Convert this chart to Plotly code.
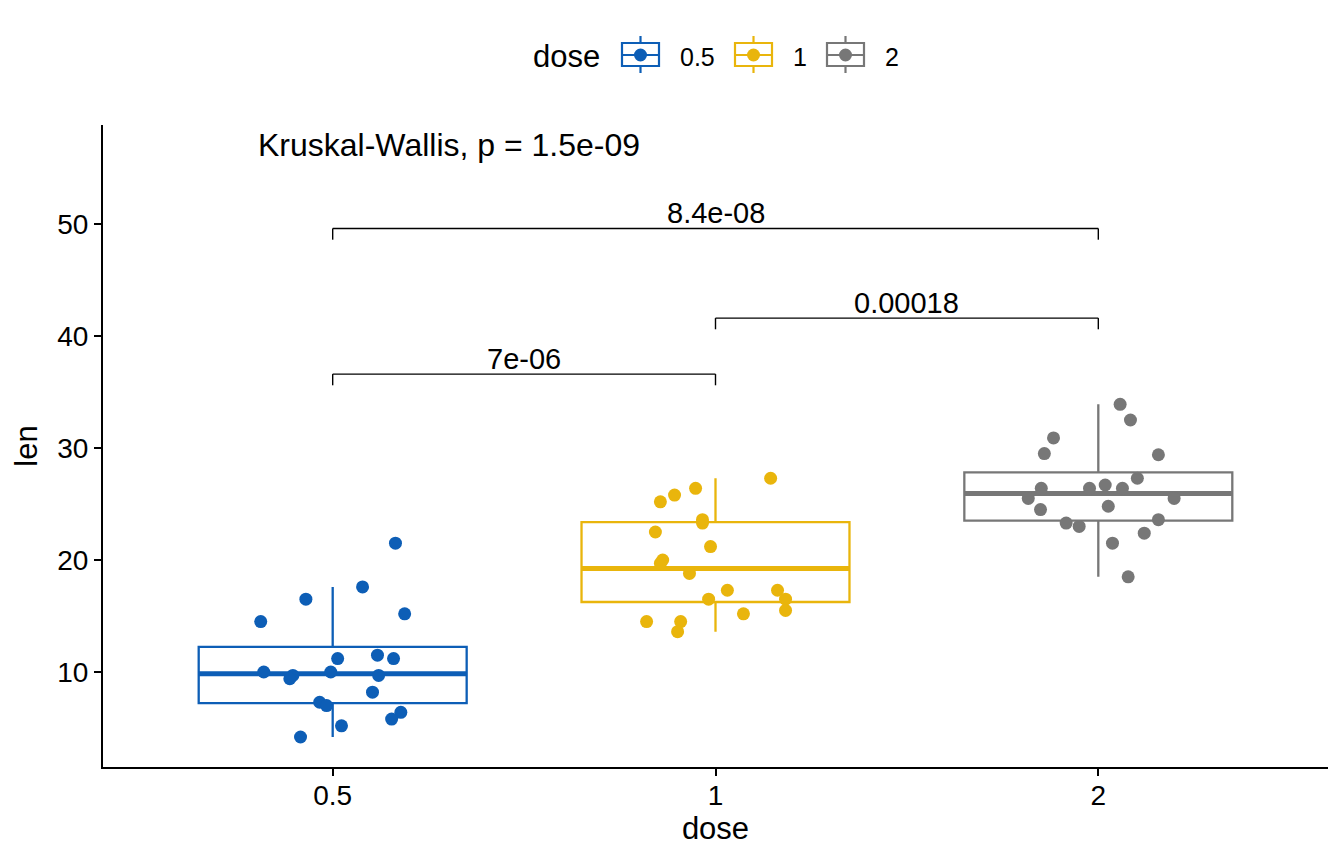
import numpy as np
import plotly.graph_objects as go

# ---------------- data ----------------
doses = ["0.5", "1", "2"]
len_d05 = [21.5, 17.6, 16.5, 15.2, 14.5, 11.5, 11.2, 11.2, 10.0, 10.0,
           9.7, 9.7, 9.4, 8.2, 7.3, 7.0, 6.4, 5.8, 5.2, 4.2]
len_d1 = [27.3, 26.4, 25.8, 25.2, 23.6, 23.3, 22.5, 21.2, 20.0, 19.7,
          18.8, 17.3, 17.3, 16.5, 16.5, 15.5, 15.2, 14.5, 14.5, 13.6]
len_d2 = [33.9, 32.5, 30.9, 29.5, 29.4, 27.3, 26.7, 26.4, 26.4, 26.4,
          25.5, 25.5, 24.8, 24.5, 23.6, 23.3, 23.0, 22.4, 21.5, 18.5]
# horizontal jitter of each point (category units)
jitter_d05 = [0.164, 0.078, -0.070, 0.188, -0.188, 0.117, 0.159, 0.013, -0.180, -0.005,
              -0.104, 0.120, -0.112, 0.104, -0.034, -0.016, 0.178, 0.154, 0.023, -0.084]
jitter_d1 = [0.144, -0.052, -0.107, -0.144, -0.034, -0.034, -0.157, -0.013, -0.138, -0.144,
             -0.068, 0.031, 0.162, -0.018, 0.183, 0.183, 0.073, -0.180, -0.091, -0.099]
jitter_d2 = [0.057, 0.084, -0.117, -0.141, 0.157, 0.102, 0.018, -0.149, -0.023, 0.063,
             -0.183, 0.198, 0.026, -0.151, 0.157, -0.084, -0.050, 0.120, 0.037, 0.078]

kruskal_label = "Kruskal-Wallis, p = 1.5e-09"
comparisons = [("0.5", "1"), ("1", "2"), ("0.5", "2")]
comparison_p = ["7e-06", "0.00018", "8.4e-08"]
bracket_y = [36.6, 41.6, 49.6]

colors = ["#0D5EB6", "#E9B50C", "#777777"]
FONT = "Liberation Sans, Arial, Helvetica, sans-serif"

# plot-area geometry (pixels)
W, H = 1344, 864
ML, MR, MT, MB = 103, 16, 125, 97
PW, PH = W - ML - MR, H - MT - MB


def px(xp):
    return (xp - ML) / PW


def py(yp):
    return (H - MB - yp) / PH


groups = [len_d05, len_d1, len_d2]
jitters = [jitter_d05, jitter_d1, jitter_d2]
pos = {d: i + 1 for i, d in enumerate(doses)}

fig = go.Figure()
half = 0.35
for i, (d, vals, jit, col) in enumerate(zip(doses, groups, jitters, colors)):
    v = np.array(vals)
    q1, med, q3 = np.percentile(v, [25, 50, 75])
    iqr = q3 - q1
    lo = v[v >= q1 - 1.5 * iqr].min()
    hi = v[v <= q3 + 1.5 * iqr].max()
    x0 = pos[d]
    fig.add_trace(go.Box(
        x=[x0], q1=[q1], median=[med], q3=[q3], lowerfence=[lo], upperfence=[hi],
        width=2 * half, whiskerwidth=0, boxpoints=False,
        line=dict(color=col, width=2.3), fillcolor="rgba(255,255,255,0)",
        name=d, showlegend=False, hoverinfo="skip",
    ))
    fig.add_trace(go.Scatter(
        x=[x0 - half, x0 + half], y=[med, med], mode="lines",
        line=dict(color=col, width=5), showlegend=False, hoverinfo="skip",
    ))
    fig.add_trace(go.Scatter(
        x=[x0 + j for j in jit], y=vals, mode="markers",
        marker=dict(color=col, size=13, line=dict(width=0)),
        showlegend=False, hoverinfo="skip",
    ))

shapes = []
annotations = []
tip = 1.0
for (a, b), p, yb in zip(comparisons, comparison_p, bracket_y):
    xa, xb = pos[a], pos[b]
    for (sx0, sy0, sx1, sy1) in [(xa, yb - tip, xa, yb), (xa, yb, xb, yb), (xb, yb, xb, yb - tip)]:
        shapes.append(dict(type="line", xref="x", yref="y", x0=sx0, y0=sy0, x1=sx1, y1=sy1,
                           line=dict(color="black", width=1.4)))
    annotations.append(dict(x=(xa + xb) / 2, y=yb, xref="x", yref="y", text=p,
                            showarrow=False, yanchor="bottom", yshift=-3,
                            font=dict(family=FONT, size=29, color="black")))

annotations.append(dict(x=0.80, y=57.05, xref="x", yref="y", text=kruskal_label,
                        showarrow=False, xanchor="left", yanchor="middle",
                        font=dict(family=FONT, size=32, color="black")))

# ---- legend drawn like ggplot's (box key with point) ----
leg_cy = 55
text_cy = 57
annotations.append(dict(x=px(531), y=py(text_cy), xref="paper", yref="paper", text="dose",
                        showarrow=False, xanchor="left", yanchor="middle",
                        font=dict(family=FONT, size=31, color="black")))
key_left = [622, 735, 827]
for d, col, kl in zip(doses, colors, key_left):
    kr = kl + 37
    kc = (kl + kr) / 2
    line = dict(color=col, width=2.2)
    shapes.append(dict(type="rect", xref="paper", yref="paper", x0=px(kl), x1=px(kr),
                       y0=py(66), y1=py(43), line=line, fillcolor="white", layer="above"))
    shapes.append(dict(type="line", xref="paper", yref="paper", x0=px(kc), x1=px(kc),
                       y0=py(43), y1=py(36), line=line))
    shapes.append(dict(type="line", xref="paper", yref="paper", x0=px(kc), x1=px(kc),
                       y0=py(73), y1=py(66), line=line))
    shapes.append(dict(type="line", xref="paper", yref="paper", x0=px(kl), x1=px(kr),
                       y0=py(leg_cy), y1=py(leg_cy), line=line))
    shapes.append(dict(type="circle", xref="paper", yref="paper", x0=px(kc - 6.5), x1=px(kc + 6.5),
                       y0=py(leg_cy + 6.5), y1=py(leg_cy - 6.5), line=dict(width=0), fillcolor=col))
    annotations.append(dict(x=px(kr + 19), y=py(text_cy), xref="paper", yref="paper", text=d,
                            showarrow=False, xanchor="left", yanchor="middle",
                            font=dict(family=FONT, size=25, color="black")))

fig.update_layout(
    width=W, height=H,
    margin=dict(l=ML, r=MR, t=MT, b=MB),
    plot_bgcolor="white", paper_bgcolor="white",
    font=dict(family=FONT, color="black"),
    shapes=shapes, annotations=annotations,
    showlegend=False,
    xaxis=dict(range=[0.4, 3.6], tickmode="array", tickvals=[1, 2, 3], ticktext=doses,
               showline=True, linecolor="black", linewidth=2, mirror=False,
               ticks="outside", ticklen=7, tickwidth=2, tickcolor="black",
               ticklabelstandoff=-5,
               tickfont=dict(size=28, color="black"), showgrid=False, zeroline=False,
               title=dict(text="dose", font=dict(size=31), standoff=4)),
    yaxis=dict(range=[1.52, 58.84], tickvals=[10, 20, 30, 40, 50],
               showline=True, linecolor="black", linewidth=2,
               ticks="outside", ticklen=7, tickwidth=2, tickcolor="black",
               tickfont=dict(size=28, color="black"), showgrid=False, zeroline=False,
               title=dict(text="len", font=dict(size=31), standoff=10)),
)

fig.write_html("out.html")
